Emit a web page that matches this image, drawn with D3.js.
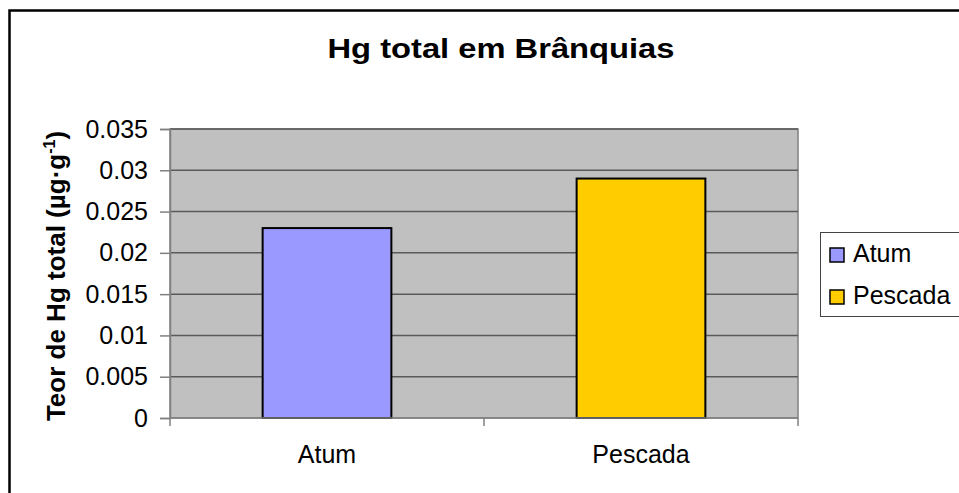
<!DOCTYPE html>
<head>
<meta charset="utf-8">
<title>Hg total em Brânquias</title>
<style>
  body { margin: 0; background: #fff; }
  svg { display: block; }
  text { font-family: "Liberation Sans", Arial, sans-serif; fill: #000; }
</style>
</head>
<body>
<script src="https://d3js.org/d3.v7.min.js"></script>
<script>

// data
var categories = ["Atum", "Pescada"];
var values = [0.023, 0.029];
var colors = ["#9999FF", "#FFCC00"];
var yTicks = [0, 0.005, 0.01, 0.015, 0.02, 0.025, 0.03, 0.035];
var title = "Hg total em Brânquias";

var width = 959, height = 493;
var plot = {left: 170, right: 798, top: 129, bottom: 418};

var svg = d3.select("body").append("svg")
    .attr("width", width)
    .attr("height", height);

// outer chart border (right/bottom fall outside the window)
svg.append("rect")
    .attr("x", 9.5).attr("y", 10.5)
    .attr("width", 980).attr("height", 520)
    .attr("fill", "#fff")
    .attr("stroke", "#000")
    .attr("stroke-width", 2.5);

var x = d3.scaleBand()
    .domain(categories)
    .range([plot.left, plot.right])
    .paddingInner(0.59)
    .paddingOuter(0.295);

var y = d3.scaleLinear()
    .domain([0, 0.035])
    .range([plot.bottom, plot.top]);

// plot area
svg.append("rect")
    .attr("x", plot.left).attr("y", plot.top)
    .attr("width", plot.right - plot.left)
    .attr("height", plot.bottom - plot.top)
    .attr("fill", "#C0C0C0")
    .attr("stroke", "#808080")
    .attr("stroke-width", 1.5);

// gridlines
svg.append("g")
  .selectAll("line")
  .data(yTicks.filter(function(d) { return d > 0; }))
  .enter().append("line")
    .attr("x1", plot.left).attr("x2", plot.right)
    .attr("y1", function(d) { return y(d); })
    .attr("y2", function(d) { return y(d); })
    .attr("stroke", "#5a5a5a")
    .attr("stroke-width", 1.5);

// bars
svg.append("g")
  .selectAll("rect")
  .data(values)
  .enter().append("rect")
    .attr("x", function(d, i) { return x(categories[i]); })
    .attr("y", function(d) { return y(d); })
    .attr("width", x.bandwidth())
    .attr("height", function(d) { return y(0) - y(d); })
    .attr("fill", function(d, i) { return colors[i]; })
    .attr("stroke", "#000")
    .attr("stroke-width", 2);

// y axis
var yAxis = svg.append("g")
    .attr("transform", "translate(" + plot.left + ",0)")
    .call(d3.axisLeft(y)
      .tickValues(yTicks)
      .tickSize(10)
      .tickPadding(12)
      .tickFormat(function(d) { return String(+d.toFixed(3)); }));
yAxis.select(".domain").attr("stroke", "#808080").attr("stroke-width", 1.5);
yAxis.selectAll(".tick line").attr("stroke", "#808080").attr("stroke-width", 1.5);
yAxis.selectAll(".tick text")
    .attr("font-size", 25)
    .attr("font-family", "Liberation Sans, Arial, sans-serif")
    .attr("fill", "#000");

// x axis
var xAxis = svg.append("g")
    .attr("transform", "translate(0," + plot.bottom + ")");
xAxis.append("line")
    .attr("x1", plot.left).attr("x2", plot.right)
    .attr("stroke", "#808080").attr("stroke-width", 1.5);
xAxis.selectAll(".xtick")
  .data([plot.left, (x(categories[0]) + x(categories[1]) + x.bandwidth()) / 2, plot.right])
  .enter().append("line")
    .attr("x1", function(d) { return d; })
    .attr("x2", function(d) { return d; })
    .attr("y1", 0).attr("y2", 8)
    .attr("stroke", "#808080").attr("stroke-width", 1.5);
xAxis.selectAll("text")
  .data(categories)
  .enter().append("text")
    .attr("x", function(d) { return x(d) + x.bandwidth() / 2; })
    .attr("y", 45)
    .attr("text-anchor", "middle")
    .attr("font-size", 25)
    .text(function(d) { return d; });

// title
svg.append("text")
    .attr("x", 501)
    .attr("y", 58)
    .attr("text-anchor", "middle")
    .attr("font-size", 28)
    .attr("font-weight", "bold")
    .attr("textLength", 347)
    .attr("lengthAdjust", "spacingAndGlyphs")
    .text(title);

// y axis label
var yl = svg.append("text")
    .attr("transform", "translate(65,276) rotate(-90)")
    .attr("text-anchor", "middle")
    .attr("font-size", 26)
    .attr("font-weight", "bold");
yl.append("tspan").text("Teor de Hg total (µg·g");
yl.append("tspan").attr("dy", -10).attr("font-size", 16).text("-1");
yl.append("tspan").attr("dy", 10).text(")");

// legend
var legend = svg.append("g");
legend.append("rect")
    .attr("x", 820.5).attr("y", 232.5)
    .attr("width", 160).attr("height", 84)
    .attr("fill", "#fff")
    .attr("stroke", "#444")
    .attr("stroke-width", 1);
var items = legend.selectAll(".item")
  .data(categories)
  .enter().append("g")
    .attr("transform", function(d, i) { return "translate(830," + (248 + i * 42) + ")"; });
items.append("rect")
    .attr("width", 14).attr("height", 14)
    .attr("fill", function(d, i) { return colors[i]; })
    .attr("stroke", "#000")
    .attr("stroke-width", 1.5);
items.append("text")
    .attr("x", 23)
    .attr("y", 14)
    .attr("font-size", 25)
    .text(function(d) { return d; });

</script>
</body>
